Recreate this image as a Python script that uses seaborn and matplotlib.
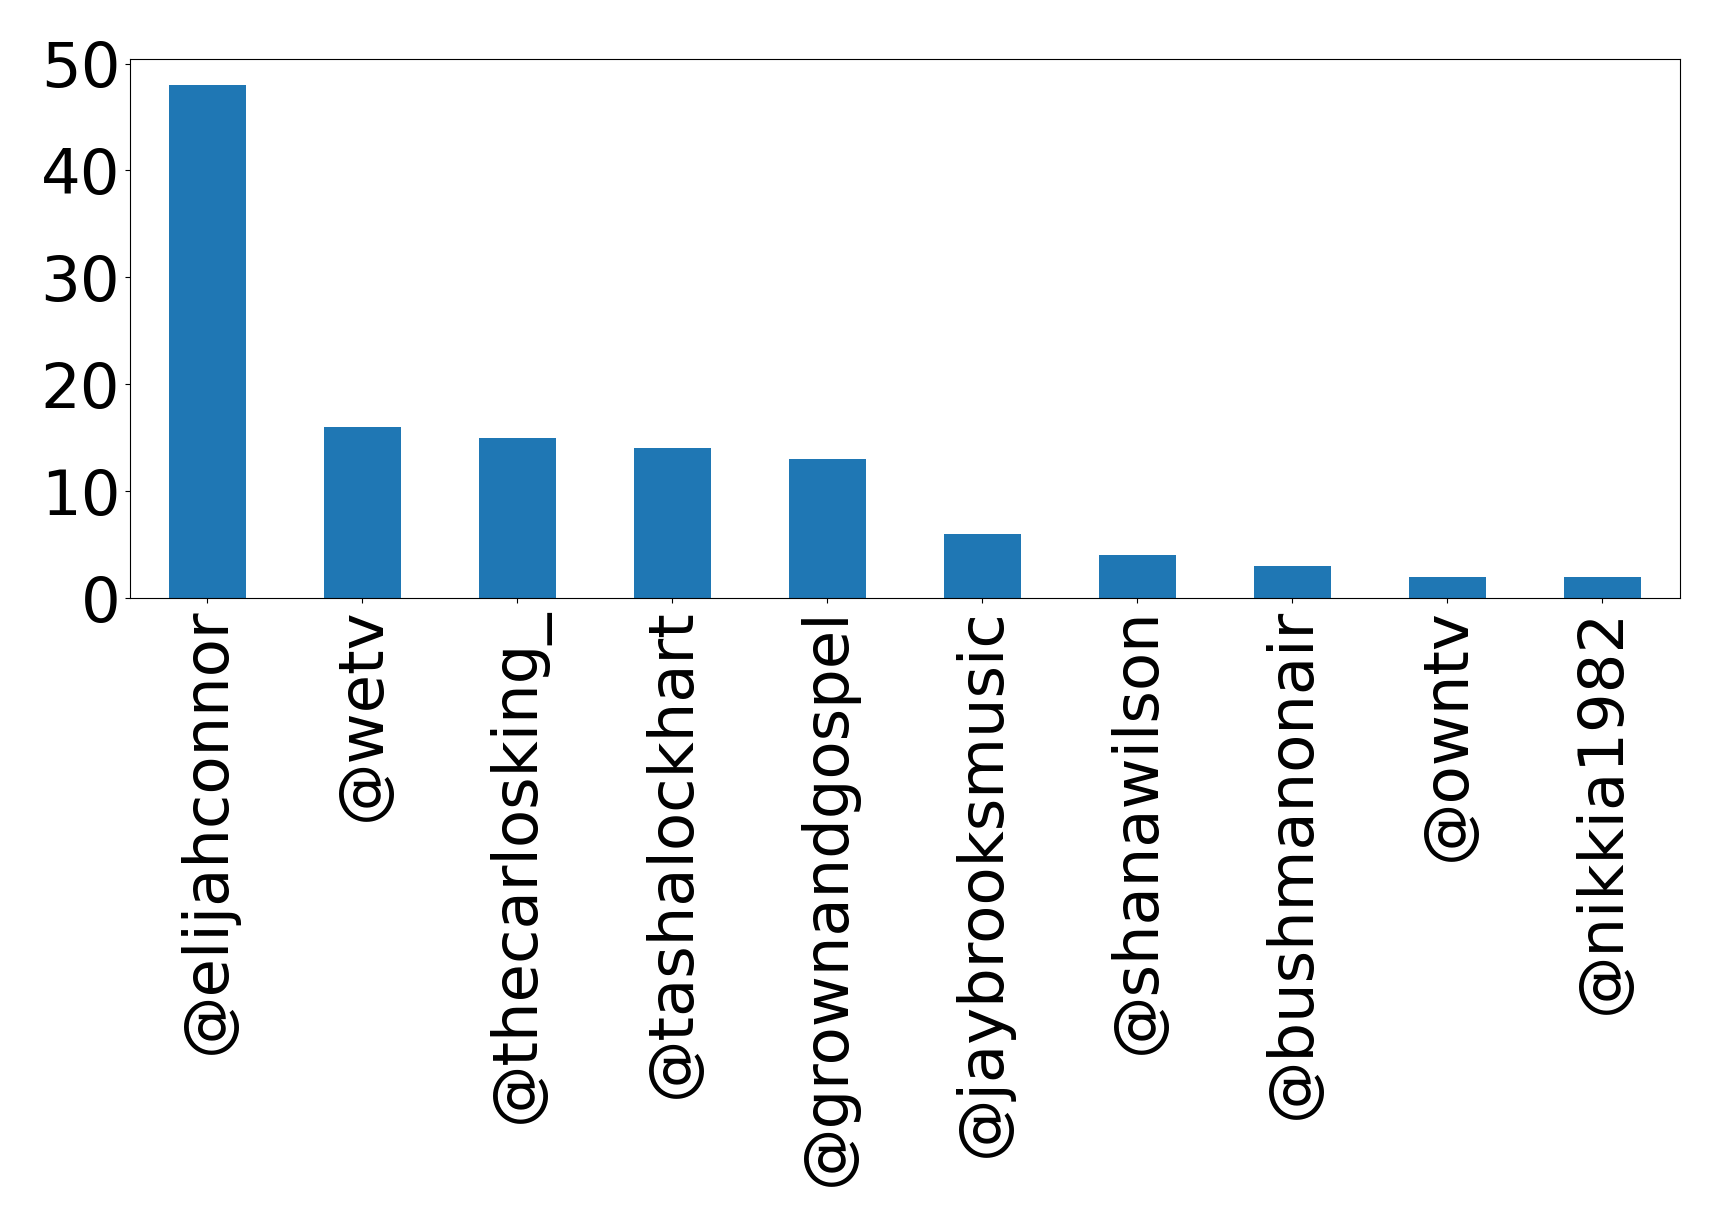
import matplotlib
matplotlib.use("Agg")
import matplotlib.pyplot as plt
import seaborn as sns
import pandas as pd

users = ["@elijahconnor", "@wetv", "@thecarlosking_", "@tashalockhart", "@grownandgospel",
         "@jaybrooksmusic", "@shanawilson", "@bushmanonair", "@owntv", "@nikkia1982"]
counts = [48, 16, 15, 14, 13, 6, 4, 3, 2, 2]

df = pd.DataFrame({"user": users, "count": counts})

fig = plt.figure(figsize=(17.19, 12.26), dpi=100)
ax = fig.add_axes([0.0756, 0.5122, 0.9773 - 0.0756, 0.9516 - 0.5122])
sns.barplot(data=df, x="user", y="count", color="#1f77b4", saturation=1, width=0.5, ax=ax)
ax.set_xlim(-0.5, len(users) - 0.5)
ax.set_ylim(0, max(counts) * 1.05)
ax.set_xlabel("")
ax.set_ylabel("")
ax.set_yticks([0, 10, 20, 30, 40, 50])
ax.tick_params(axis="both", labelsize=45)
ax.tick_params(axis="x", labelrotation=90)
fig.savefig("out.png", dpi=100)
